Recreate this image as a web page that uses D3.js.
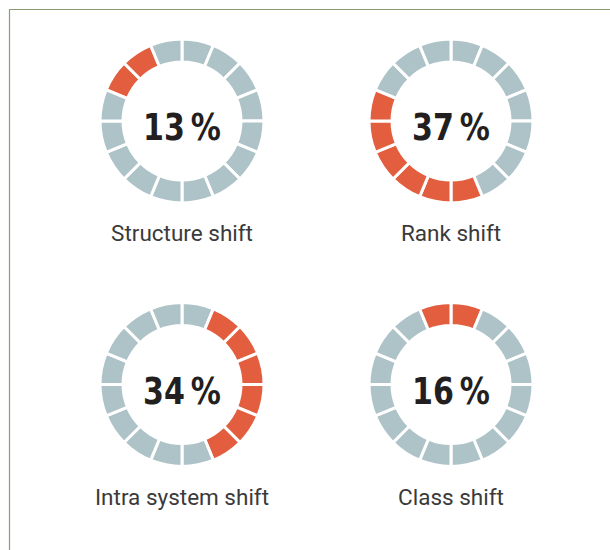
<!DOCTYPE html>
<html>
<head>
<meta charset="utf-8">
<script src="https://cdn.jsdelivr.net/npm/d3@7"></script>
<style>
  body { margin: 0; background: #fff; }
  svg { display: block; }
</style>
</head>
<body>
<div id="chart"></div>
<script>
const labels = ["Structure shift", "Rank shift", "Intra system shift", "Class shift"];
const percents = [13, 37, 34, 16];
// which of the 16 ring segments are highlighted (index 0 = just right of top, clockwise)
const highlightStart = [13, 7, 1, 15];
const highlightCount = [2, 6, 6, 2];
const segmentCount = 16;

const width = 610, height = 550;
const outerR = 82, innerR = 59;

const svg = d3.select("#chart")
  .append("svg")
  .attr("width", width)
  .attr("height", height);

// frame lines
svg.append("path")
  .attr("d", "M9.5,550V9.5H610")
  .attr("fill", "none")
  .attr("stroke", "#8a9c74")
  .attr("stroke-width", 1.2);

const col = d3.scalePoint().domain([0, 1]).range([182, 451]);
const row = d3.scalePoint().domain([0, 1]).range([121, 384.5]);

const pie = d3.pie().value(1).sort(null);
const arc = d3.arc().innerRadius(innerR).outerRadius(outerR);

labels.forEach((label, i) => {
  const g = svg.append("g")
    .attr("transform", `translate(${col(i % 2)},${row(Math.floor(i / 2))})`);

  const segs = pie(d3.range(segmentCount));
  const isOn = k => {
    const rel = (k - highlightStart[i] + segmentCount) % segmentCount;
    return rel < highlightCount[i];
  };

  g.selectAll("path")
    .data(segs)
    .enter()
    .append("path")
    .attr("d", arc)
    .attr("fill", d => isOn(d.index) ? "#e35e3e" : "#adc3c8")
    .attr("stroke", "#fff")
    .attr("stroke-width", 3);

  g.append("text")
    .attr("x", 0)
    .attr("y", 19)
    .attr("text-anchor", "middle")
    .attr("transform", "scale(0.88,1)")
    .style("font-family", "'DejaVu Sans Condensed', 'DejaVu Sans'")
    .style("font-stretch", "condensed")
    .style("font-weight", "bold")
    .style("font-size", "38px")
    .style("fill", "#231f20")
    .text(percents[i] + "\u2009%");

  g.append("text")
    .attr("x", 0)
    .attr("y", 120)
    .attr("text-anchor", "middle")
    .style("font-family", "Roboto, sans-serif")
    .style("font-size", "22.5px")
    .style("fill", "#3a3a3a")
    .text(label);
});
</script>
</body>
</html>
